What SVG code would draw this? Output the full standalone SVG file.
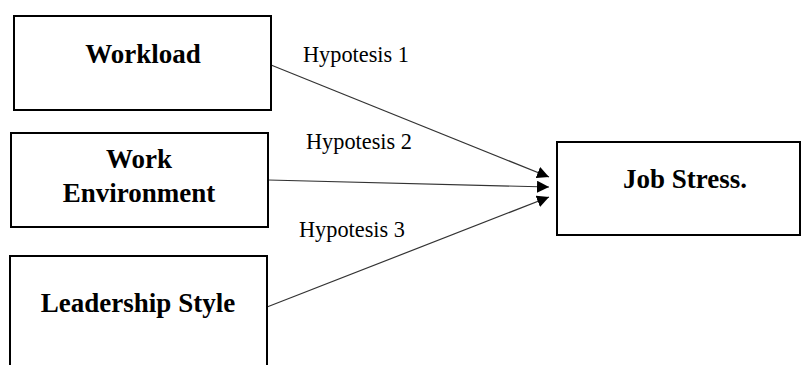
<svg xmlns="http://www.w3.org/2000/svg" width="803" height="365" viewBox="0 0 803 365">
<style>
.box{fill:#fff;stroke:#000;stroke-width:2}
.t{font-family:'Liberation Serif',Tinos,'DejaVu Serif',serif;font-weight:bold;font-size:27px;fill:#000;text-anchor:middle}
.h{font-family:'Liberation Serif',Tinos,'DejaVu Serif',serif;font-size:22.3px;fill:#000}
.c{stroke:#333;stroke-width:1.2;fill:none;marker-end:url(#ah)}
</style>
<defs>
<marker id="ah" markerUnits="userSpaceOnUse" markerWidth="14" markerHeight="12" refX="12" refY="6" orient="auto">
<path d="M0,0 L12,6 L0,12 Z" fill="#000"/>
</marker>
</defs>
<rect width="803" height="365" fill="#fff"/>
<g id="connectors">
<line class="c" x1="271" y1="65" x2="549" y2="177"/>
<line class="c" x1="268" y1="180" x2="549" y2="187"/>
<line class="c" x1="267" y1="307" x2="549" y2="197"/>
<text class="h" x="303" y="62">Hypotesis 1</text>
<text class="h" x="306" y="149">Hypotesis 2</text>
<text class="h" x="299" y="237">Hypotesis 3</text>
</g>
<g id="workload">
<rect class="box" x="14" y="16" width="257" height="94"/>
<text class="t" x="143" y="63">Workload</text>
</g>
<g id="work-environment">
<rect class="box" x="11" y="133" width="257" height="94"/>
<text class="t" x="139" y="168">Work</text>
<text class="t" x="139" y="202">Environment</text>
</g>
<g id="leadership-style">
<rect class="box" x="10" y="256" width="257" height="120"/>
<text class="t" x="138" y="312">Leadership Style</text>
</g>
<g id="job-stress">
<rect class="box" x="557" y="142" width="243" height="93"/>
<text class="t" x="685" y="188">Job Stress.</text>
</g>
</svg>
